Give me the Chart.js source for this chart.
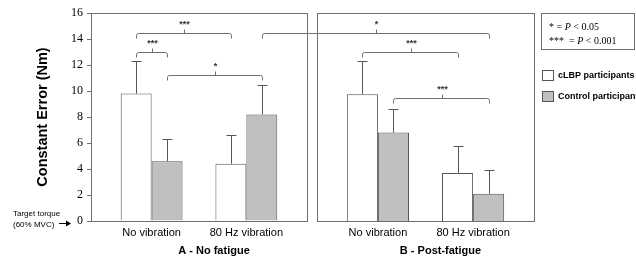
<!DOCTYPE html>
<html>
<head>
<meta charset="utf-8">
<script src="https://cdn.jsdelivr.net/npm/chart.js@4.4.1/dist/chart.umd.min.js"></script>
<style>
  html, body { margin: 0; padding: 0; background: #fff; }
  #wrap { position: relative; width: 636px; height: 260px; }
  #wrap canvas { position: absolute; left: 0; top: 0; }
</style>
</head>
<body>
<div id="wrap">
  <canvas id="panelA" width="636" height="260"></canvas>
  <canvas id="panelB" width="636" height="260"></canvas>
</div>
<script>
const categories = ["No vibration", "80 Hz vibration"];
const seriesNames = ["cLBP participants", "Control participants"];
const yTicks = [0, 2, 4, 6, 8, 10, 12, 14, 16];

// A - No fatigue
const noFatigueCLBP = [9.8, 4.4];
const noFatigueCLBPErr = [2.5, 2.2];
const noFatigueControl = [4.6, 8.2];
const noFatigueControlErr = [1.7, 2.3];

// B - Post-fatigue
const postFatigueCLBP = [9.75, 3.7];
const postFatigueCLBPErr = [2.55, 2.1];
const postFatigueControl = [6.8, 2.1];
const postFatigueControlErr = [1.85, 1.8];

// significance brackets: [panel, category, series] -> [panel, category, series]
const bracketFrom = [["A", 0, 0], ["A", 0, 0], ["A", 0, 1], ["A", 1, 1], ["B", 0, 0], ["B", 0, 1]];
const bracketTo = [["A", 0, 1], ["A", 1, 0], ["A", 1, 1], ["B", 1, 1], ["B", 1, 0], ["B", 1, 1]];
const bracketLevels = [13.0, 14.45, 11.25, 14.45, 13.0, 9.45];
const bracketLabels = ["***", "***", "*", "*", "***", "***"];

const SANS = "'Liberation Sans', Arial, sans-serif";
const SERIF = "'Liberation Serif', 'Times New Roman', serif";
const LINE = "#6f6f6f";
const BAR_LINE = "#555";
const CONTROL_FILL = "#c0c0c0";

function makeData(cl, clErr, co, coErr) {
  return {
    datasets: [
      { label: seriesNames[0], data: cl.map((v, i) => ({ x: i + 1, y: v })), errors: clErr,
        backgroundColor: "#fff", borderColor: BAR_LINE, borderWidth: 1 },
      { label: seriesNames[1], data: co.map((v, i) => ({ x: i + 1, y: v })), errors: coErr,
        backgroundColor: CONTROL_FILL, borderColor: BAR_LINE, borderWidth: 1 }
    ]
  };
}

const errorBars = {
  id: "errorBars",
  afterDatasetsDraw(chart) {
    const ctx = chart.ctx, y = chart.scales.y;
    ctx.save();
    ctx.strokeStyle = BAR_LINE;
    ctx.lineWidth = 1;
    chart.data.datasets.forEach((ds, di) => {
      chart.getDatasetMeta(di).data.forEach((bar, i) => {
        const top = Math.round(y.getPixelForValue(ds.data[i].y + ds.errors[i])) + 0.5;
        const x = Math.round(bar.x) + 0.5;
        ctx.beginPath();
        ctx.moveTo(x, bar.y);
        ctx.lineTo(x, top);
        ctx.moveTo(x - 5, top);
        ctx.lineTo(x + 5, top);
        ctx.stroke();
      });
    });
    ctx.restore();
  }
};

const panelBox = {
  id: "panelBox",
  afterDraw(chart, args, opts) {
    const ctx = chart.ctx, a = chart.chartArea;
    ctx.save();
    ctx.strokeStyle = LINE;
    ctx.lineWidth = 1;
    ctx.strokeRect(Math.round(a.left) + 0.5, Math.round(a.top) + 0.5,
      Math.round(a.right - a.left), Math.round(a.bottom - a.top));
    ctx.fillStyle = "#000";
    ctx.font = "bold 11px " + SANS;
    ctx.textAlign = "center";
    ctx.textBaseline = "middle";
    ctx.fillText(opts.title, (a.left + a.right) / 2 + 15, 251);
    ctx.restore();
  }
};

function xScale() {
  return {
    type: "linear",
    min: 0.36,
    max: 2.64,
    offset: false,
    grid: { display: false, offset: false, drawTicks: false, tickLength: 0 },
    border: { display: false },
    afterBuildTicks: s => { s.ticks = categories.map((c, i) => ({ value: i + 1 })); },
    afterFit: s => { s.height = 39; },
    ticks: {
      callback: v => categories[v - 1],
      font: { family: SANS, size: 11 },
      color: "#000",
      padding: 5,
      maxRotation: 0,
      autoSkip: false
    }
  };
}

const barOpts = { categoryPercentage: 0.653, barPercentage: 1.0 };

function targetNoteDraw(chart) {
  const ctx = chart.ctx;
  ctx.save();
  ctx.fillStyle = "#000";
  ctx.strokeStyle = "#000";
  ctx.font = "8px " + SANS;
  ctx.textBaseline = "middle";
  ctx.fillText("Target torque", 13, 214);
  ctx.fillText("(60% MVC)", 13, 225);
  ctx.beginPath();
  ctx.moveTo(59, 223.5);
  ctx.lineTo(67, 223.5);
  ctx.stroke();
  ctx.beginPath();
  ctx.moveTo(71, 223.5);
  ctx.lineTo(66, 220.5);
  ctx.lineTo(66, 226.5);
  ctx.closePath();
  ctx.fill();
  ctx.restore();
}

const chartA = new Chart(document.getElementById("panelA"), {
  type: "bar",
  data: makeData(noFatigueCLBP, noFatigueCLBPErr, noFatigueControl, noFatigueControlErr),
  options: {
    responsive: false,
    animation: false,
    datasets: { bar: barOpts },
    layout: { padding: { left: 0, right: 329, top: 13, bottom: 0 } },
    plugins: { legend: { display: false }, tooltip: { enabled: false }, panelBox: { title: "A - No fatigue" } },
    scales: {
      x: xScale(),
      y: {
        min: 0,
        max: 16,
        afterBuildTicks: s => { s.ticks = yTicks.map(v => ({ value: v })); },
        afterFit: s => { s.width = 91; },
        grid: { drawOnChartArea: false, drawTicks: true, tickLength: 4, color: LINE },
        border: { color: LINE },
        ticks: { font: { family: SERIF, size: 12 }, color: "#000", padding: 4 },
        title: {
          display: true,
          text: "Constant Error (Nm)",
          font: { family: SANS, size: 14.5, weight: "bold" },
          color: "#000",
          padding: { top: 34, bottom: 0 }
        }
      }
    }
  },
  plugins: [errorBars, panelBox, { id: "targetNote", afterDraw: targetNoteDraw }]
});

function barCenter(ref, chartB) {
  const chart = ref[0] === "A" ? chartA : chartB;
  return chart.getDatasetMeta(ref[2]).data[ref[1]].x;
}

const brackets = {
  id: "brackets",
  afterDraw(chart) {
    const ctx = chart.ctx, y = chart.scales.y;
    ctx.save();
    ctx.strokeStyle = LINE;
    ctx.lineWidth = 1;
    bracketLevels.forEach((lvl, i) => {
      const x1 = Math.round(barCenter(bracketFrom[i], chart)) + 0.5;
      const x2 = Math.round(barCenter(bracketTo[i], chart)) + 0.5;
      const yy = Math.round(y.getPixelForValue(lvl)) + 0.5;
      const xc = Math.round((x1 + x2) / 2) + 0.5;
      ctx.beginPath();
      ctx.moveTo(x1, yy + 5);
      ctx.lineTo(x1, yy + 2);
      ctx.quadraticCurveTo(x1, yy, x1 + 2, yy);
      ctx.lineTo(x2 - 2, yy);
      ctx.quadraticCurveTo(x2, yy, x2, yy + 2);
      ctx.lineTo(x2, yy + 5);
      ctx.moveTo(xc, yy);
      ctx.lineTo(xc, yy - 4);
      ctx.stroke();
      ctx.fillStyle = "#333";
      ctx.font = "bold 9px " + SANS;
      ctx.textAlign = "center";
      ctx.textBaseline = "middle";
      ctx.fillText(bracketLabels[i], xc, yy - 9);
    });

    // significance key
    ctx.strokeStyle = LINE;
    ctx.strokeRect(541.5, 13.5, 93, 36);
    ctx.fillStyle = "#000";
    ctx.textAlign = "left";
    ctx.textBaseline = "middle";
    const keyLines = [["*", " = ", "P", " < 0.05"], ["***", "  = ", "P", " < 0.001"]];
    keyLines.forEach((parts, li) => {
      let x = 549;
      const yy = 27 + li * 14;
      parts.forEach((p, pi) => {
        ctx.font = (pi === 2 ? "italic " : "") + "10px " + SERIF;
        ctx.fillText(p, x, yy);
        x += ctx.measureText(p).width;
      });
    });

    // series legend
    const fills = ["#fff", CONTROL_FILL];
    seriesNames.forEach((name, i) => {
      const ty = 70 + i * 21;
      ctx.fillStyle = fills[i];
      ctx.fillRect(542, ty, 11, 10);
      ctx.strokeStyle = BAR_LINE;
      ctx.strokeRect(542.5, ty + 0.5, 11, 10);
      ctx.fillStyle = "#000";
      ctx.font = "bold 9px " + SANS;
      ctx.fillText(name, 558, ty + 5.5);
    });
    ctx.restore();
  }
};

const chartB = new Chart(document.getElementById("panelB"), {
  type: "bar",
  data: makeData(postFatigueCLBP, postFatigueCLBPErr, postFatigueControl, postFatigueControlErr),
  options: {
    responsive: false,
    animation: false,
    datasets: { bar: barOpts },
    layout: { padding: { left: 317, right: 102, top: 13, bottom: 0 } },
    plugins: { legend: { display: false }, tooltip: { enabled: false }, panelBox: { title: "B - Post-fatigue" } },
    scales: {
      x: xScale(),
      y: { display: false, min: 0, max: 16 }
    }
  },
  plugins: [errorBars, panelBox, brackets]
});
</script>
</body>
</html>
